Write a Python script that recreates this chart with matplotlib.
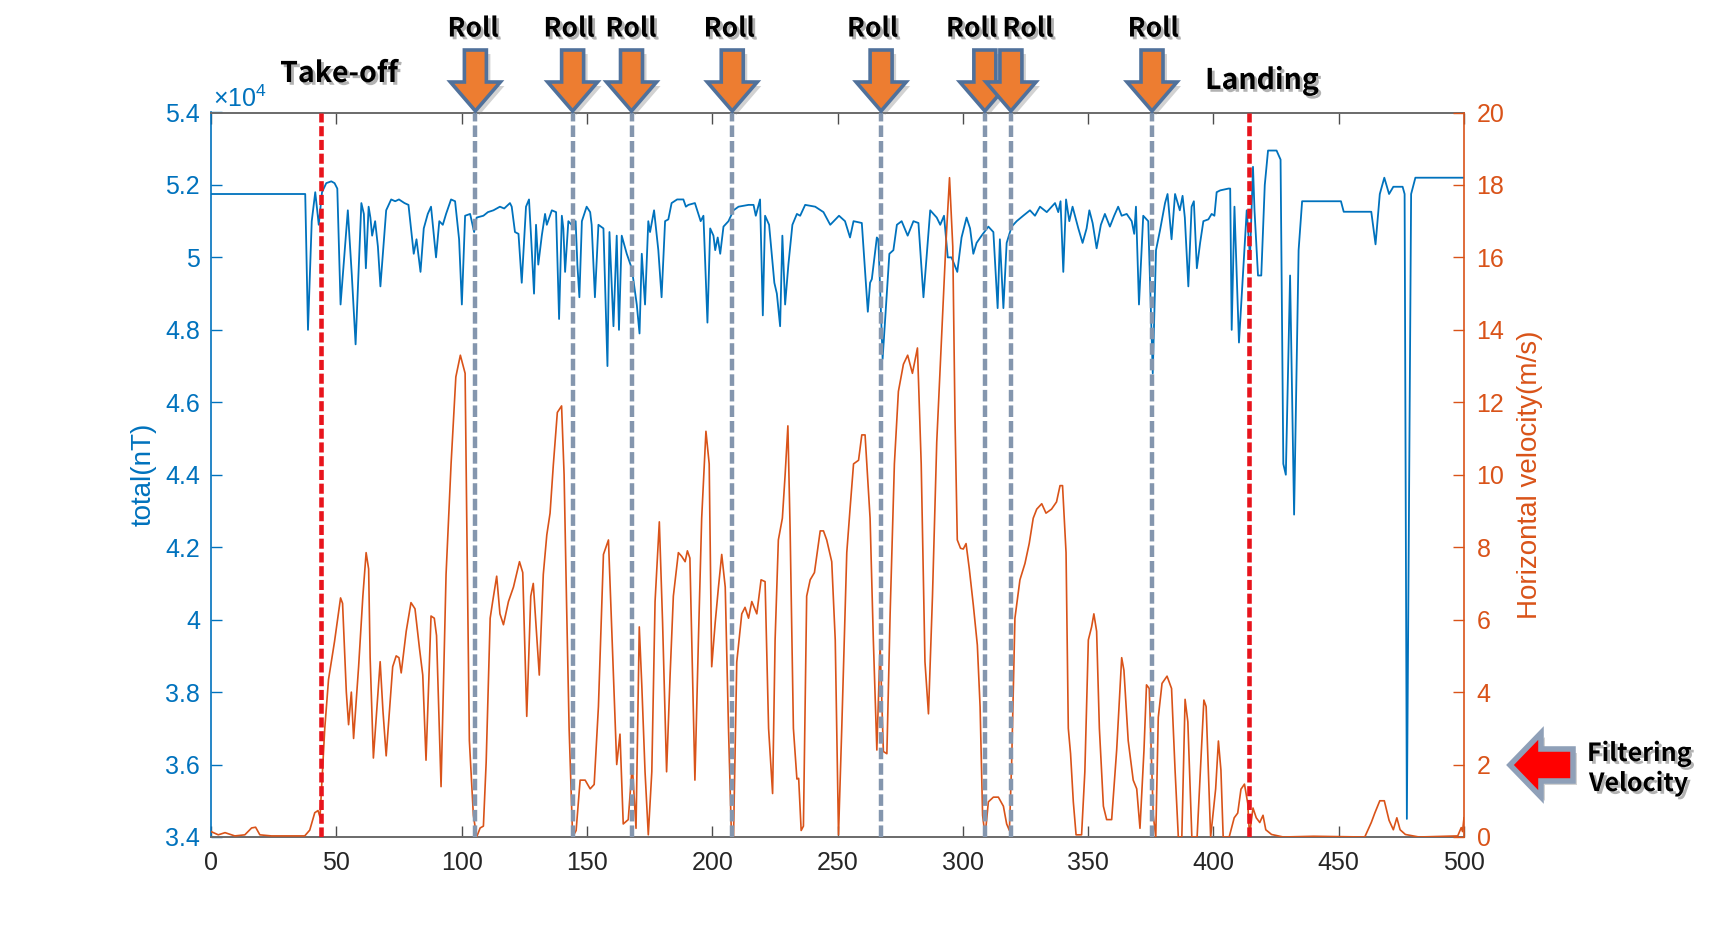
import numpy as np
import matplotlib
matplotlib.use("Agg")
import matplotlib.pyplot as plt
from matplotlib.patches import Polygon
from matplotlib.transforms import IdentityTransform
import matplotlib.patheffects as pe

# ---------------- data ----------------
# total magnetic field (units of 1e4 nT)
total_t = [0, 37.6, 38.7, 40.2, 41.6, 43.0, 44.3, 46.0, 48.0, 49.3, 50.4, 51.7, 54.6, 56.2, 57.7,
           60.0, 61.0, 61.8, 62.9, 63.6, 64.3, 65.5, 66.6, 67.6, 69.9, 71.9, 73.5, 75.0, 77.2, 78.8,
           80.9, 82.0, 83.6, 84.9, 86.5, 87.8, 89.8, 91.1, 92.5, 93.8, 95.8, 97.4, 99.0, 100.1, 101.4,
           103.4, 105.0, 106.0, 108.7, 110.5, 112.7, 115.3, 117.0, 119.3, 120.0, 121.3, 122.7, 124.0,
           125.7, 126.9, 127.7, 128.9, 129.7, 130.6, 132.0, 133.3, 134.0, 136.0, 137.7, 138.9, 140.0,
           140.6, 141.3, 142.6, 143.9, 145.5, 146.2, 147.0, 148.0, 149.9, 151.3, 151.9, 153.2, 154.6,
           156.6, 158.2, 159.0, 160.6, 161.9, 162.8, 163.9, 165.9, 167.9, 169.9, 171.0, 171.9, 173.2,
           174.5, 175.2, 176.8, 178.5, 179.8, 181.2, 182.5, 183.8, 186.0, 188.5, 189.5, 190.5, 193.1,
           195.4, 196.5, 198.1, 199.2, 200.5, 201.2, 202.2, 203.2, 204.5, 206.5, 208.5, 210.5, 214.5,
           216.5, 217.4, 219.1, 220.2, 221.1, 222.7, 224.0, 224.8, 225.8, 227.1, 228.0, 229.1, 230.4,
           232.0, 233.8, 235.1, 237.1, 241.1, 244.4, 247.1, 250.6, 253.0, 255.0, 256.4, 259.7, 262.1,
           263.0, 263.7, 265.7, 266.3, 268.0, 270.7, 272.3, 273.7, 275.6, 278.0, 280.3, 282.3, 284.3,
           287.0, 289.6, 291.0, 292.5, 294.0, 295.5, 297.8, 299.5, 301.5, 302.9, 304.2, 305.5, 307.5,
           310.2, 312.2, 313.9, 314.8, 316.2, 317.5, 319.5, 321.5, 324.1, 326.8, 328.8, 330.8, 333.5,
           336.8, 338.1, 339.0, 340.1, 341.2, 342.5, 343.8, 346.1, 347.8, 349.4, 350.5, 351.8, 353.4,
           355.1, 356.7, 358.7, 360.4, 362.0, 363.4, 365.4, 367.4, 368.4, 369.1, 370.3, 372.0, 374.0,
           375.8, 377.1, 378.7, 380.7, 381.7, 383.3, 384.7, 386.6, 387.7, 388.6, 390.0, 391.3, 392.2,
           393.4, 394.7, 396.0, 398.0, 399.3, 400.4, 401.3, 402.7, 406.0, 406.7, 407.3, 408.4, 410.2,
           413.3, 414.6, 415.8, 416.4, 417.8, 419.1, 420.5, 421.8, 425.2, 426.8, 427.9, 428.9, 430.6,
           432.2, 434.0, 435.4, 450.9, 452.0, 463.0, 464.7, 466.4, 468.2, 470.1, 471.8, 475.5, 476.3,
           477.2, 478.9, 480.6, 500.0]
total_v = [5.175, 5.175, 4.80, 5.10, 5.18, 5.09, 5.18, 5.205, 5.21, 5.205, 5.19, 4.87, 5.13, 4.95, 4.76,
           5.15, 5.12, 4.97, 5.14, 5.11, 5.06, 5.10, 5.03, 4.92, 5.13, 5.16, 5.155, 5.16, 5.15, 5.145,
           5.01, 5.05, 4.96, 5.08, 5.12, 5.14, 5.00, 5.10, 5.09, 5.12, 5.16, 5.155, 5.05, 4.87, 5.115,
           5.12, 5.07, 5.11, 5.115, 5.125, 5.13, 5.14, 5.135, 5.15, 5.14, 5.07, 5.065, 4.93,
           5.14, 5.16, 5.06, 4.90, 5.09, 4.98, 5.06, 5.12, 5.09, 5.13, 5.125, 4.83, 5.115,
           5.08, 4.96, 5.10, 5.09, 5.10, 4.98, 4.89, 5.10, 5.14, 5.125, 5.09, 4.89, 5.09,
           5.08, 4.70, 5.07, 4.81, 5.06, 4.80, 5.06, 5.01, 4.97, 4.87, 4.79, 5.01, 4.87,
           5.10, 5.07, 5.13, 5.02, 4.89, 5.10, 5.105, 5.15, 5.16, 5.16, 5.14, 5.145, 5.15,
           5.10, 5.115, 4.82, 5.08, 5.06, 5.02, 5.055, 5.01, 5.085, 5.10, 5.13, 5.14, 5.145,
           5.145, 5.115, 5.16, 4.84, 5.115, 5.09, 4.99, 4.93, 4.90, 4.81, 5.06, 4.87, 4.98,
           5.09, 5.12, 5.115, 5.145, 5.14, 5.125, 5.09, 5.115, 5.10, 5.055, 5.10, 5.095, 4.85,
           4.93, 4.94, 5.055, 5.05, 4.72, 5.01, 5.02, 5.09, 5.10, 5.06, 5.10, 5.095, 4.89,
           5.13, 5.11, 5.09, 5.115, 5.00, 5.00, 4.96, 5.055, 5.11, 5.08, 5.01, 5.04, 5.06,
           5.085, 5.07, 4.86, 5.05, 4.86, 5.04, 5.085, 5.10, 5.115, 5.13, 5.115, 5.14, 5.125,
           5.15, 5.125, 5.155, 4.96, 5.16, 5.10, 5.14, 5.08, 5.04, 5.08, 5.13, 5.095, 5.025,
           5.09, 5.12, 5.085, 5.115, 5.14, 5.115, 5.12, 5.10, 5.065, 5.14, 4.87, 5.115, 5.10,
           4.68, 5.02, 5.075, 5.15, 5.175, 5.05, 5.175, 5.13, 5.17, 5.11, 4.92, 5.14, 5.155,
           4.97, 5.04, 5.10, 5.105, 5.12, 5.115, 5.18, 5.185, 5.19, 5.19, 4.80, 5.14, 4.765,
           5.13, 5.00, 5.25, 5.13, 4.95, 4.95, 5.20, 5.295, 5.295, 5.27, 4.43, 4.40, 4.95,
           4.29, 5.02, 5.155, 5.155, 5.126, 5.126, 5.036, 5.175, 5.22, 5.175, 5.195, 5.195, 5.175,
           3.45, 5.175, 5.22, 5.22]

# horizontal velocity (m/s)
vel_t = [0, 2.9, 5.6, 9.5, 13.5, 16.2, 17.8, 19.5, 24.1, 37.4, 39.4, 41.4, 42.7, 43.5, 45.4, 46.9,
         49.3, 51.7, 52.5, 54.0, 54.9, 56.0, 56.9, 58.9, 60.6, 61.9, 62.9, 63.5, 64.8, 67.5, 68.6,
         69.9, 72.5, 73.9, 75.0, 75.9, 77.9, 79.8, 81.4, 83.2, 84.5, 85.8, 87.8, 89.1, 90.0, 91.8,
         93.8, 95.8, 97.7, 99.5, 101.4, 102.0, 103.1, 104.7, 106.0, 107.4, 108.7, 109.8, 111.4,
         112.4, 114.0, 115.3, 116.7, 118.7, 120.7, 123.1, 124.4, 126.0, 127.6, 128.6, 131.0, 132.6,
         134.0, 135.3, 136.6, 138.2, 139.9, 140.9, 141.9, 142.9, 144.3, 145.7, 147.3, 149.3, 151.3,
         152.9, 154.6, 156.6, 158.6, 160.6, 161.9, 163.2, 164.5, 166.5, 168.1, 169.6, 170.9, 171.9,
         173.2, 174.5, 175.9, 177.2, 178.9, 180.2, 181.8, 183.2, 184.5, 186.5, 187.8, 189.2, 190.1,
         191.1, 193.1, 194.5, 195.8, 197.5, 198.8, 199.8, 201.2, 202.5, 203.8, 205.2, 206.5, 207.6,
         208.5, 209.8, 211.8, 213.1, 214.5, 215.8, 217.8, 219.5, 221.1, 222.5, 224.1, 225.1, 226.4,
         228.0, 229.1, 230.2, 231.1, 232.4, 233.8, 234.5, 235.5, 236.4, 237.7, 239.1, 240.8, 243.1,
         244.4, 245.7, 247.7, 249.1, 250.4, 251.7, 253.7, 255.0, 256.4, 258.4, 259.7, 261.0, 263.0,
         264.3, 265.7, 267.0, 268.3, 269.7, 271.0, 272.7, 274.3, 276.3, 278.0, 279.9, 281.9, 283.4,
         284.9, 286.3, 287.9, 289.6, 291.6, 293.2, 294.7, 296.0, 296.9, 297.8, 299.1, 300.2, 301.3,
         302.6, 304.2, 305.8, 306.9, 307.9, 308.9, 310.2, 312.2, 314.2, 316.2, 317.5, 318.6, 319.5,
         320.8, 322.8, 324.8, 326.5, 328.1, 329.5, 331.5, 333.2, 335.4, 337.4, 338.8, 339.8, 341.2,
         342.1, 343.0, 344.1, 345.2, 347.4, 348.7, 350.1, 351.4, 352.3, 353.4, 354.5, 356.1, 357.4,
         359.4, 361.4, 363.4, 364.3, 366.0, 368.0, 369.4, 370.7, 372.3, 373.3, 374.4, 376.0, 377.0,
         378.0, 379.5, 381.5, 383.3, 384.7, 386.0, 387.4, 388.7, 389.8, 391.4, 393.5, 396.2, 397.1,
         398.9, 400.9, 402.0, 403.0, 403.9, 406.3, 408.3, 409.7, 411.0, 412.4, 413.7, 414.4, 415.8,
         417.1, 418.5, 419.8, 420.9, 423.2, 427.9, 440.0, 460.4, 463.0, 464.4, 466.4, 468.2, 470.1,
         471.8, 473.2, 474.5, 476.6, 482.0, 497.5, 498.9, 499.4, 500.0]
vel_v = [0.15, 0.06, 0.12, 0.03, 0.06, 0.25, 0.27, 0.06, 0.03, 0.03, 0.19, 0.67, 0.73, 0.55, 3.0, 4.35,
         5.4, 6.6, 6.45, 4.0, 3.1, 4.0, 2.72, 4.7, 6.65, 7.85, 7.4, 4.95, 2.18, 4.84, 3.5,
         2.24, 4.7, 5.0, 4.95, 4.53, 5.68, 6.47, 6.3, 5.2, 4.47, 2.12, 6.1, 6.04, 5.56, 1.39,
         7.25, 10.3, 12.7, 13.3, 12.8, 9.1, 2.66, 0.6, 0.0, 0.25, 0.3, 2.06, 6.04,
         6.5, 7.2, 6.16, 5.86, 6.5, 6.9, 7.6, 7.3, 3.33, 6.65, 7.0, 4.47, 7.25,
         8.34, 8.94, 10.27, 11.72, 11.9, 10.0, 6.4, 3.0, 0.0, 0.18, 1.57, 1.57, 1.33,
         1.45, 3.6, 7.8, 8.2, 4.47, 2.0, 2.84, 0.36, 0.48, 2.0, 0.24, 5.8, 4.2,
         1.8, 0.06, 1.8, 6.5, 8.7, 5.92, 1.8, 4.47, 6.65, 7.85, 7.75, 7.6, 7.9,
         7.7, 1.57, 5.44, 8.8, 11.2, 10.3, 4.7, 5.92, 6.9, 7.8, 6.9, 3.0, 0.24,
         0.0, 4.83, 6.16, 6.34, 6.04, 6.5, 6.16, 7.1, 7.05, 3.0, 1.2, 5.44, 8.2,
         8.8, 10.0, 11.35, 8.45, 3.0, 1.6, 1.62, 0.18, 0.3, 6.65, 7.1, 7.3, 8.45,
         8.45, 8.2, 7.6, 5.44, 0.06, 3.0, 7.85, 9.05, 10.3, 10.4, 11.1, 11.1, 8.8,
         5.44, 2.4, 5.3, 2.36, 2.3, 6.16, 10.3, 12.3, 13.05, 13.3, 12.8, 13.5, 10.3,
         4.84, 3.4, 6.65, 10.9, 13.9, 16.3, 18.2, 16.3, 11.5, 8.2, 7.97, 7.95, 8.1,
         7.4, 6.4, 5.3, 3.6, 0.6, 0.03, 0.97, 1.1, 1.1, 0.85, 0.36, 0.18, 2.06,
         6.04, 7.1, 7.55, 8.1, 8.8, 9.05, 9.2, 8.94, 9.05, 9.25, 9.7, 9.7, 7.85,
         3.0, 2.3, 0.97, 0.06, 0.06, 1.8, 5.44, 5.8, 6.16, 5.68, 3.0, 0.85, 0.48,
         0.48, 2.4, 4.95, 4.6, 2.66, 1.57, 1.33, 0.24, 2.4, 4.2, 4.1, 0.6, 0.0,
         3.3, 4.24, 4.44, 4.1, 1.85, 0.0, 0.0, 3.8, 3.18, 0.0, 0.0, 3.78, 3.6,
         0.0, 1.33, 2.65, 1.85, 0.0, 0.0, 0.53, 0.66, 1.32, 1.46, 0.93, 0.05, 0.8,
         0.53, 0.4, 0.6, 0.2, 0.07, 0.0, 0.02, 0.0, 0.4, 0.66, 1.0, 1.0, 0.46,
         0.2, 0.53, 0.2, 0.07, 0.0, 0.03, 0.26, 0.15, 0.53]

x_ticks = list(range(0, 501, 50))
left_ticks = [3.4, 3.6, 3.8, 4.0, 4.2, 4.4, 4.6, 4.8, 5.0, 5.2, 5.4]
right_ticks = list(range(0, 21, 2))

event_x = [44.0, 414.3]                       # take-off, landing
event_labels = ["Take-off", "Landing"]
roll_x = [105.5, 144.3, 167.8, 208.0, 267.4, 308.8, 319.2, 375.5]
roll_label_x = [104.6, 142.9, 167.6, 206.8, 264.0, 303.5, 326.0, 376.0]

# ---------------- figure ----------------
W, H = 1713, 936
plt.rcParams['font.family'] = ['Liberation Sans', 'DejaVu Sans']
plt.rcParams['mathtext.fontset'] = 'custom'
plt.rcParams['mathtext.rm'] = 'Liberation Sans'
plt.rcParams['mathtext.it'] = 'Liberation Sans'

BLUE = '#0072BD'
ORANGE = '#D95319'
AXG = '#4d4d4d'

fig = plt.figure(figsize=(W / 100, H / 100), dpi=100)
ax = fig.add_axes([211 / W, 1 - 837 / H, 1253 / W, 724.5 / H])
ax2 = ax.twinx()

ax.plot(total_t, total_v, color=BLUE, lw=1.3, zorder=2)
ax2.plot(vel_t, vel_v, color=ORANGE, lw=1.2, zorder=2)

ax.set_xlim(0, 500)
ax.set_ylim(3.4, 5.4)
ax2.set_ylim(0, 20)

ax.set_xticks(x_ticks)
ax.set_xticklabels([str(v) for v in x_ticks])
ax.set_yticks(left_ticks)
ax.set_yticklabels([f'{v:g}' for v in left_ticks])
ax2.set_yticks(right_ticks)
ax2.set_yticklabels([str(v) for v in right_ticks])

ax.tick_params(axis='x', direction='in', top=True, bottom=True, length=8, width=1,
               color=AXG, labelcolor='#262626', labelsize=18, pad=10)
ax.tick_params(axis='y', direction='in', left=True, right=False, length=8, width=1,
               color=BLUE, labelcolor=BLUE, labelsize=18, pad=8)
ax2.tick_params(axis='y', direction='in', right=True, left=False, length=8, width=1,
                color=ORANGE, labelcolor=ORANGE, labelsize=18, pad=9)

for s in ['top', 'bottom']:
    ax.spines[s].set_color('#6a6a6a')
    ax.spines[s].set_linewidth(1.4)
ax.spines['left'].set_color(BLUE)
ax.spines['left'].set_linewidth(1.2)
ax.spines['right'].set_visible(False)
for s in ['top', 'bottom', 'left']:
    ax2.spines[s].set_visible(False)
ax2.spines['right'].set_color(ORANGE)
ax2.spines['right'].set_linewidth(1.2)

ax.set_ylabel('total(nT)', color=BLUE, fontsize=20)
ax.yaxis.set_label_coords(-0.043, 0.5)
ax2.set_ylabel('Horizontal velocity(m/s)', color=ORANGE, fontsize=20)
ax2.yaxis.set_label_coords(1.042, 0.5)

fig.text(213 / W, 1 - 99 / H, r'$\times10^{4}$', color=BLUE, fontsize=18, va='center', ha='left')

# vertical event lines
for xv in roll_x:
    ax2.axvline(xv, color='#8496AE', lw=3.2, linestyle=(0, (2.6, 0.9)), zorder=5)
for xv in event_x:
    ax2.axvline(xv, color='#E8141C', lw=3.3, linestyle=(0, (2.2, 0.8)), zorder=6)

# ---------------- annotations (pixel geometry) ----------------
def px(xdata):
    return ax.transData.transform((xdata, 4.0))[0]

def add_poly(pts_top, face, edge, lw, shadow=(4, 4), z=3):
    pts = [(x, H - y) for x, y in pts_top]
    sh = [(x + shadow[0], y - shadow[1]) for x, y in pts]
    fig.add_artist(Polygon(sh, closed=True, facecolor='#7f7f7f', edgecolor='none', alpha=0.35,
                           transform=IdentityTransform(), zorder=z))
    fig.add_artist(Polygon(pts, closed=True, facecolor=face, edgecolor=edge, lw=lw,
                           joinstyle='miter', transform=IdentityTransform(), zorder=z + 0.1))

top, hs, tip = 50, 82, 111
sw, hw = 11, 25
for i, xv in enumerate(roll_x):
    cx = px(xv)
    add_poly([(cx - sw, top), (cx + sw, top), (cx + sw, hs), (cx + hw, hs), (cx, tip),
              (cx - hw, hs), (cx - sw, hs)], '#ED7D31', '#50719B', 2.6, z=3 + 0.2 * i)

shadow_fx = [pe.withSimplePatchShadow(offset=(2, -2), shadow_rgbFace='#555555', alpha=0.45)]
bold_font = dict(family=['Noto Sans CJK KR', 'DejaVu Sans'], weight='bold', color='black')

for xl in roll_label_x:
    fig.text(px(xl) / W, 1 - 29 / H, 'Roll', fontsize=19, ha='center', va='center',
             path_effects=shadow_fx, **bold_font)

fig.text(339 / W, 1 - 74 / H, event_labels[0], fontsize=20.5, ha='center', va='center',
         path_effects=shadow_fx, **bold_font)
fig.text(1262 / W, 1 - 81 / H, event_labels[1], fontsize=20.5, ha='center', va='center',
         path_effects=shadow_fx, **bold_font)

# filtering velocity arrow + text
add_poly([(1510, 765), (1541, 733), (1541, 749), (1573, 749), (1573, 781), (1541, 781),
          (1541, 797)], '#FF0000', '#8FA0B8', 4.0, shadow=(4, 4), z=3)
fig.text(1587 / W, 1 - 754 / H, 'Filtering', fontsize=18, ha='left', va='center',
         path_effects=shadow_fx, **bold_font)
fig.text(1589 / W, 1 - 784 / H, 'Velocity', fontsize=18, ha='left', va='center',
         path_effects=shadow_fx, **bold_font)

fig.savefig('out.png', dpi=100)
